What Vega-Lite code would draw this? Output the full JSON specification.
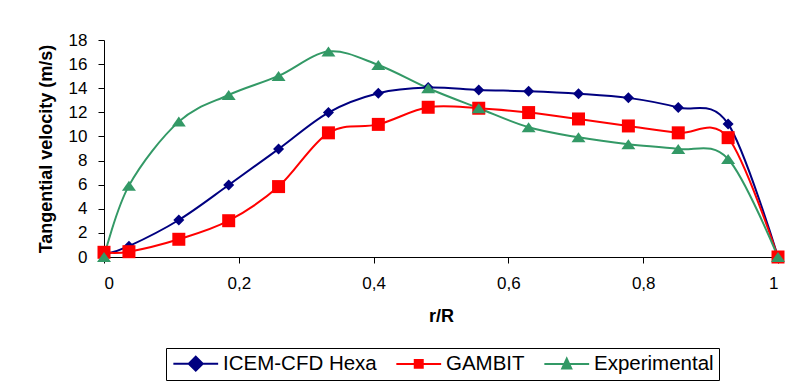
{
  "$schema": "https://vega.github.io/schema/vega-lite/v6.json",
  "width": 674,
  "height": 217,
  "autosize": {"type": "none"},
  "padding": {"left": 104, "top": 40, "right": 24, "bottom": 124},
  "background": "white",
  "config": {
    "view": {"stroke": null},
    "font": "Liberation Sans",
    "axis": {
      "grid": false,
      "domainColor": "black",
      "domainWidth": 1,
      "tickColor": "black",
      "tickSize": 6,
      "labelColor": "black",
      "titleColor": "black",
      "labelFont": "Liberation Sans",
      "titleFont": "Liberation Sans",
      "labelFontSize": 17,
      "titleFontSize": 18,
      "titleFontWeight": "bold"
    }
  },
  "data": {
    "values": [
      {"r": 0, "v": 0.2, "s": "ICEM-CFD Hexa"},
      {"r": 0.037, "v": 0.9, "s": "ICEM-CFD Hexa"},
      {"r": 0.111, "v": 3.07, "s": "ICEM-CFD Hexa"},
      {"r": 0.185, "v": 5.97, "s": "ICEM-CFD Hexa"},
      {"r": 0.259, "v": 8.96, "s": "ICEM-CFD Hexa"},
      {"r": 0.333, "v": 11.98, "s": "ICEM-CFD Hexa"},
      {"r": 0.407, "v": 13.58, "s": "ICEM-CFD Hexa"},
      {"r": 0.481, "v": 14.05, "s": "ICEM-CFD Hexa"},
      {"r": 0.556, "v": 13.86, "s": "ICEM-CFD Hexa"},
      {"r": 0.63, "v": 13.75, "s": "ICEM-CFD Hexa"},
      {"r": 0.704, "v": 13.55, "s": "ICEM-CFD Hexa"},
      {"r": 0.778, "v": 13.2, "s": "ICEM-CFD Hexa"},
      {"r": 0.852, "v": 12.4, "s": "ICEM-CFD Hexa"},
      {"r": 0.926, "v": 11.04, "s": "ICEM-CFD Hexa"},
      {"r": 1, "v": 0, "s": "ICEM-CFD Hexa"},
      {"r": 0, "v": 0.39, "s": "GAMBIT"},
      {"r": 0.037, "v": 0.44, "s": "GAMBIT"},
      {"r": 0.111, "v": 1.47, "s": "GAMBIT"},
      {"r": 0.185, "v": 3.01, "s": "GAMBIT"},
      {"r": 0.259, "v": 5.84, "s": "GAMBIT"},
      {"r": 0.333, "v": 10.3, "s": "GAMBIT"},
      {"r": 0.407, "v": 11.0, "s": "GAMBIT"},
      {"r": 0.481, "v": 12.42, "s": "GAMBIT"},
      {"r": 0.556, "v": 12.34, "s": "GAMBIT"},
      {"r": 0.63, "v": 11.98, "s": "GAMBIT"},
      {"r": 0.704, "v": 11.45, "s": "GAMBIT"},
      {"r": 0.778, "v": 10.87, "s": "GAMBIT"},
      {"r": 0.852, "v": 10.3, "s": "GAMBIT"},
      {"r": 0.926, "v": 9.9, "s": "GAMBIT"},
      {"r": 1, "v": 0, "s": "GAMBIT"},
      {"r": 0, "v": 0, "s": "Experimental"},
      {"r": 0.037, "v": 5.92, "s": "Experimental"},
      {"r": 0.111, "v": 11.23, "s": "Experimental"},
      {"r": 0.185, "v": 13.44, "s": "Experimental"},
      {"r": 0.259, "v": 15.02, "s": "Experimental"},
      {"r": 0.333, "v": 17.04, "s": "Experimental"},
      {"r": 0.407, "v": 15.93, "s": "Experimental"},
      {"r": 0.481, "v": 14.0, "s": "Experimental"},
      {"r": 0.556, "v": 12.34, "s": "Experimental"},
      {"r": 0.63, "v": 10.76, "s": "Experimental"},
      {"r": 0.704, "v": 9.93, "s": "Experimental"},
      {"r": 0.778, "v": 9.35, "s": "Experimental"},
      {"r": 0.852, "v": 8.96, "s": "Experimental"},
      {"r": 0.926, "v": 8.13, "s": "Experimental"},
      {"r": 1, "v": 0, "s": "Experimental"}
    ]
  },
  "encoding": {
    "x": {
      "field": "r",
      "type": "quantitative",
      "title": "r/R",
      "scale": {"domain": [0, 1], "nice": false, "zero": false},
      "axis": {
        "values": [0, 0.2, 0.4, 0.6, 0.8, 1],
        "labelExpr": "replace(format(datum.value, '~g'), '.', ',')",
        "labelPadding": 12,
        "titlePadding": 16
      }
    },
    "y": {
      "field": "v",
      "type": "quantitative",
      "title": "Tangential velocity (m/s)",
      "scale": {"domain": [0, 18], "nice": false},
      "axis": {
        "values": [0, 2, 4, 6, 8, 10, 12, 14, 16, 18],
        "labelPadding": 11,
        "titlePadding": 13
      }
    }
  },
  "resolve": {
    "scale": {"shape": "independent"},
    "legend": {"color": "independent", "shape": "independent", "stroke": "independent"}
  },
  "layer": [
    {
      "mark": {"type": "line", "interpolate": "cardinal", "strokeWidth": 2},
      "encoding": {
        "color": {
          "field": "s",
          "type": "nominal",
          "scale": {
            "domain": ["ICEM-CFD Hexa", "GAMBIT", "Experimental"],
            "range": ["#000080", "#FF0000", "#339966"]
          },
          "legend": null
        }
      }
    },
    {
      "mark": {"type": "point", "filled": true, "opacity": 1, "strokeWidth": 1, "size": 100},
      "encoding": {
        "color": {
          "field": "s",
          "type": "nominal",
          "scale": {
            "domain": ["ICEM-CFD Hexa", "GAMBIT", "Experimental"],
            "range": ["#000080", "#FF0000", "#339966"]
          },
          "legend": null
        },
        "shape": {
          "field": "s",
          "type": "nominal",
          "scale": {
            "domain": ["ICEM-CFD Hexa", "GAMBIT", "Experimental"],
            "range": ["M0,-1.1L1.1,0L0,1.1L-1.1,0Z", "M-1.3,-1.3H1.3V1.3H-1.3Z", "M0,-1L1.4,1H-1.4Z"]
          },
          "legend": null
        }
      }
    },
    {
      "transform": [{"filter": "datum.v < 0"}],
      "mark": {"type": "point", "filled": true, "opacity": 1, "size": 196, "strokeWidth": 2},
      "encoding": {
        "color": {
          "field": "s",
          "type": "nominal",
          "title": null,
          "scale": {
            "domain": ["ICEM-CFD Hexa", "GAMBIT", "Experimental"],
            "range": ["#000080", "#FF0000", "#339966"]
          },
          "legend": {
            "orient": "none",
            "legendX": 62,
            "legendY": 308,
            "direction": "horizontal",
            "columns": 3,
            "title": null,
            "labelFont": "Liberation Sans",
            "labelFontSize": 20.5,
            "labelColor": "black",
            "labelLimit": 400,
            "symbolSize": 196,
            "symbolStrokeWidth": 2,
            "symbolOpacity": 1,
            "symbolOffset": 14.5,
            "labelOffset": 17,
            "columnPadding": 15,
            "padding": 5,
            "strokeColor": "black",
            "fillColor": "white"
          }
        },
        "stroke": {
          "field": "s",
          "type": "nominal",
          "title": null,
          "scale": {
            "domain": ["ICEM-CFD Hexa", "GAMBIT", "Experimental"],
            "range": ["#000080", "#FF0000", "#339966"]
          }
        },
        "shape": {
          "field": "s",
          "type": "nominal",
          "title": null,
          "scale": {
            "domain": ["ICEM-CFD Hexa", "GAMBIT", "Experimental"],
            "range": ["M-3.2,0H3.2M0,-1L1,0L0,1L-1,0Z", "M-3.2,0H3.2M-0.57,-0.57H0.57V0.57H-0.57Z", "M-3.2,0H3.2M0,-0.75L0.65,0.65H-0.65Z"]
          }
        }
      }
    }
  ]
}
